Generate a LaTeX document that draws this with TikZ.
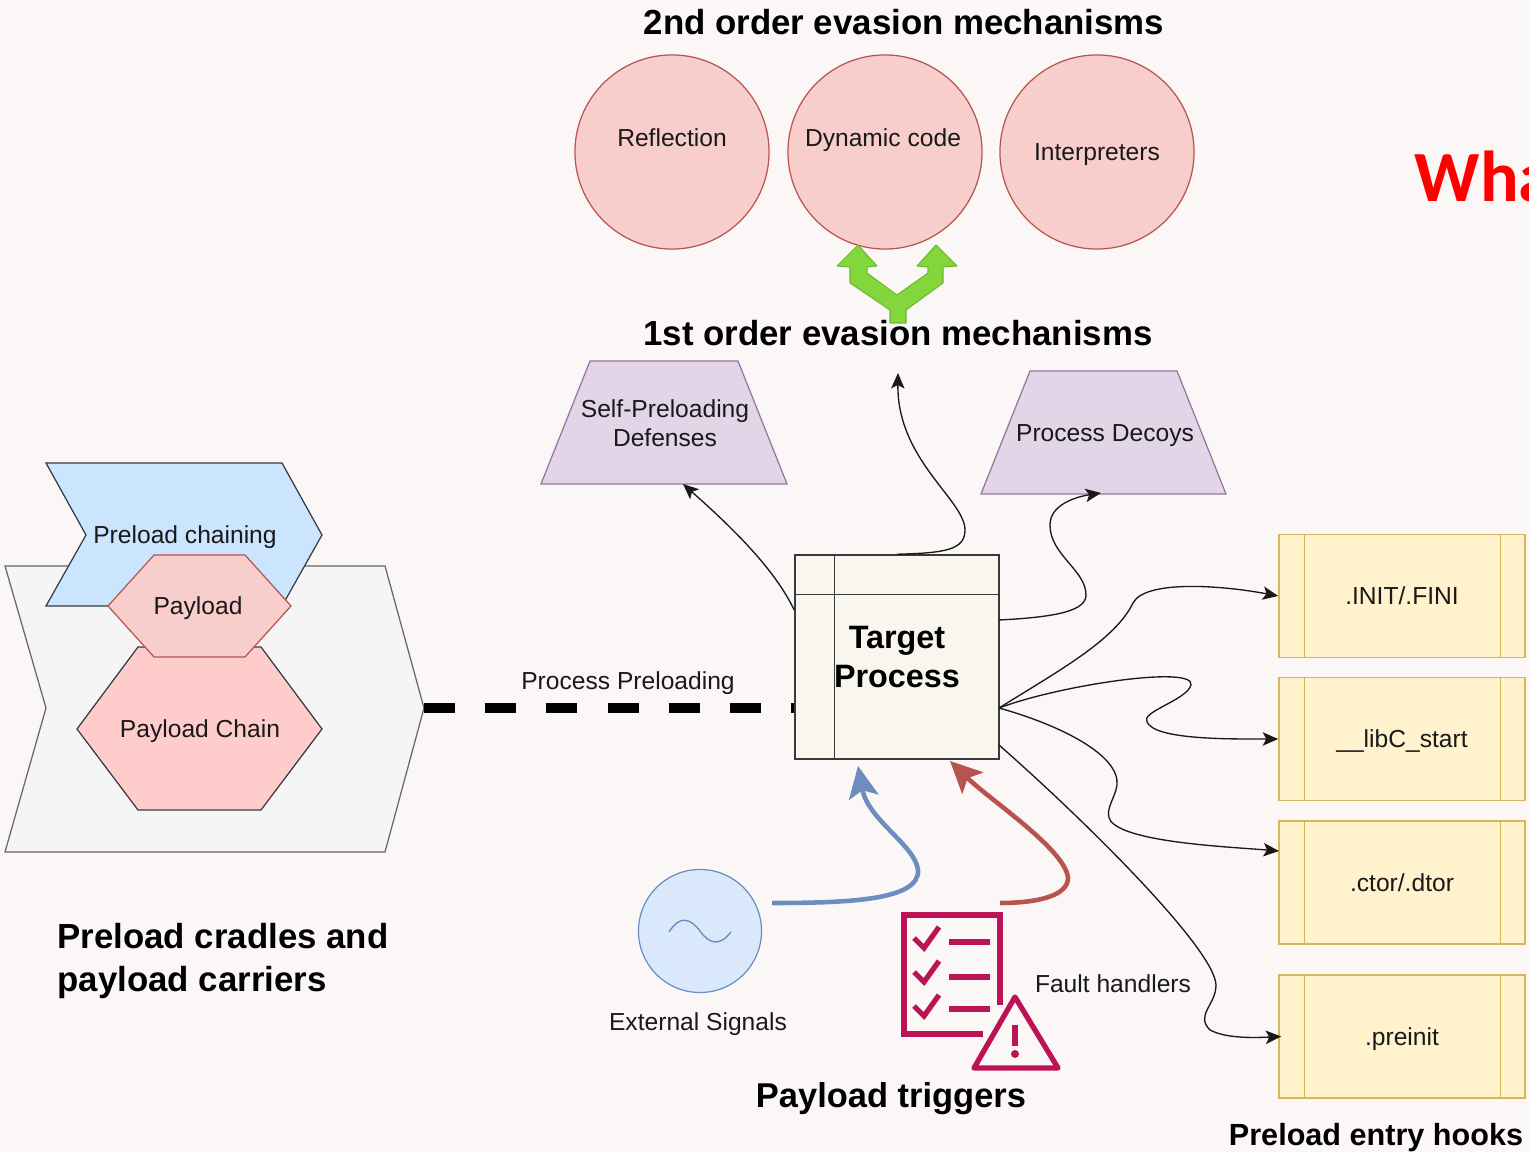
\documentclass[tikz,border=0pt]{standalone}
\usepackage{fontspec}
\setmainfont{Liberation Sans}
\newfontfamily\redfont{Carlito}
\usetikzlibrary{arrows.meta}

\definecolor{pagebg}{HTML}{FCF7F7}
\definecolor{pinkfill}{HTML}{F8CECC}
\definecolor{pinkline}{HTML}{B85450}
\definecolor{lilacfill}{HTML}{E1D5E7}
\definecolor{lilacline}{HTML}{9673A6}
\definecolor{yellowfill}{HTML}{FFF2CC}
\definecolor{yellowline}{HTML}{D6B656}
\definecolor{darkline}{HTML}{36393D}
\definecolor{skyfill}{HTML}{DAE8FC}
\definecolor{skyline}{HTML}{6C8EBF}
\definecolor{chainfill}{HTML}{FFCCCC}
\definecolor{chainblue}{HTML}{CCE5FF}
\definecolor{targetfill}{HTML}{F9F7ED}
\definecolor{iconred}{HTML}{BC1356}
\definecolor{greenfill}{HTML}{83D63C}
\definecolor{greenline}{HTML}{6DBB2C}

\tikzset{
  lbl/.style={font=\fontsize{7}{8.2}\selectfont, text=black!90, align=center, inner sep=0pt},
  heading/.style={font=\fontsize{9.9}{12}\selectfont\bfseries, text=black, align=center, inner sep=0pt},
  evasion/.style={circle, draw=pinkline, fill=pinkfill, line width=.35pt, minimum size=1.94cm, inner sep=0pt},
  decoy/.style={draw=lilacline, fill=lilacfill, line width=.35pt},
  entry/.style={rectangle, draw=yellowline, fill=yellowfill, line width=.4pt, minimum width=2.46cm, minimum height=1.23cm, inner sep=0pt, text depth=0pt},
  entryline/.style={draw=yellowline, line width=.4pt},
  wire/.style={->, draw=black!90, line width=.38pt},
  fatwire/.style={-{Stealth[length=9pt,width=8.5pt,inset=2pt]}, line width=1.3pt},
  icon/.style={draw=iconred, line width=1.5pt}
}

\begin{document}
\begin{tikzpicture}[x=.01cm, y=-.01cm, >={Stealth[length=4.4pt,width=3.8pt,inset=1pt]}]

        \useasboundingbox (0,0) rectangle (1529,1152);
        \clip (0,0) rectangle (1529,1152);
        \fill[pagebg] (0,0) rectangle (1529,1152);

        % second order circles
        \node[evasion] (reflection) at (672,152) {};
        \node[evasion] (dynamic) at (885,152) {};
        \node[evasion] (interp) at (1097,152) {};
        \node[lbl] (reflectionText) at (672,138) {Reflection};
        \node[lbl] (dynamicText) at (883,140.5) {Dynamic code};
        \node[lbl] (interpText) at (1097,155) {Interpreters};
        \node[heading] (second) at (904,22) {2nd order evasion mechanisms};

        % green split arrow
        \fill[greenfill, draw=greenline, line width=.3pt, line join=round] (890,323) -- (906,323) -- (906,310) -- (943,283) -- (943,267)
            -- (957,266) -- (936,245) -- (917,266) -- (928,267) -- (928,273) -- (897,295) -- (867,273) -- (867,267)
            -- (877,266) -- (858,245) -- (837,266) -- (850,267) -- (850,283) -- (890,310) -- cycle;
        \node[heading] (first) at (898,333) {1st order evasion mechanisms};

        % trapezoids
        \draw[decoy] (541,484) -- (590,361) -- (738,361) -- (787,484) -- cycle;
        \draw[decoy] (981,494) -- (1030,371) -- (1177,371) -- (1226,494) -- cycle;
        \node[lbl] (selfdef) at (665,423) {Self-Preloading\\Defenses};
        \node[lbl] (decoys) at (1105,436) {Process Decoys};
        \coordinate (selfdefIn) at (683,484);
        \coordinate (decoysIn) at (1101,493);
        \coordinate (firstIn) at (898,373);

        % cradle and payloads
        \draw[draw=black!60, fill=black!4, line width=.35pt] (5,566) -- (385,566) -- (424,708) -- (385,852) -- (5,852) -- (46,708) -- cycle;
        \draw[draw=darkline, fill=chainfill, line width=.35pt] (77,729) -- (138,647) -- (261,647) -- (322,729) -- (261,810) -- (138,810) -- cycle;
        \draw[draw=darkline, fill=chainblue, line width=.35pt] (46,463) -- (282,463) -- (322,535) -- (282,606) -- (46,606) -- (86,535) -- cycle;
        \draw[draw=pinkline, fill=pinkfill, line width=.35pt] (108,606) -- (154,555) -- (245,555) -- (291,606) -- (245,657) -- (154,657) -- cycle;
        \node[lbl] (chaining) at (185,537) {Preload chaining};
        \node[lbl] (payload) at (198,608) {Payload};
        \node[lbl] (chain) at (200,731) {Payload Chain};
        \node[heading, align=left] (cradles) at (223,961) {Preload cradles and\\payload carriers};
        \coordinate (cradleTip) at (424,708);

        % target process
        \node[rectangle, draw=darkline, fill=targetfill, line width=.4pt, minimum size=2.04cm, inner sep=0pt, align=center,
              font=\fontsize{9.2}{11}\selectfont\bfseries] (target) at (897,657) {Target\\Process};
        \draw[draw=darkline, line width=.35pt] ([yshift=-.4cm]target.north west) -- ([yshift=-.4cm]target.north east);
        \draw[draw=darkline, line width=.35pt] ([xshift=.4cm]target.north west) -- ([xshift=.4cm]target.south west);
        \coordinate (fan) at (999,708);

        % entry hooks
        \node[entry, lbl] (init) at (1402,596) {.INIT/.FINI};
        \node[entry, lbl] (libc) at (1402,739) {\_\_libC\_start};
        \node[entry, lbl] (ctor) at (1402,882.5) {.ctor/.dtor};
        \node[entry, lbl] (preinit) at (1402,1036.5) {.preinit};
        \draw[entryline] ([xshift=.26cm]init.north west) -- ([xshift=.26cm]init.south west);
        \draw[entryline] ([xshift=-.25cm]init.north east) -- ([xshift=-.25cm]init.south east);
        \draw[entryline] ([xshift=.26cm]libc.north west) -- ([xshift=.26cm]libc.south west);
        \draw[entryline] ([xshift=-.25cm]libc.north east) -- ([xshift=-.25cm]libc.south east);
        \draw[entryline] ([xshift=.26cm]ctor.north west) -- ([xshift=.26cm]ctor.south west);
        \draw[entryline] ([xshift=-.25cm]ctor.north east) -- ([xshift=-.25cm]ctor.south east);
        \draw[entryline] ([xshift=.26cm]preinit.north west) -- ([xshift=.26cm]preinit.south west);
        \draw[entryline] ([xshift=-.25cm]preinit.north east) -- ([xshift=-.25cm]preinit.south east);
        \coordinate (ctorIn) at (1279,851);
        \node[heading, font=\fontsize{8.7}{12}\selectfont\bfseries] (hooks) at (1376,1138) {Preload entry hooks};

        % triggers
        \node[circle, draw=skyline, fill=skyfill, line width=.35pt, minimum size=1.23cm, inner sep=0pt] (signal) at (700,931) {};
        \draw[draw=skyline, line width=.4pt] (669,932) .. controls (680,915) and (690,918) .. (700,931) .. controls (710,945) and (720,946) .. (731,932);
        \node[lbl] (signalText) at (698,1024) {External Signals};
        \node[lbl] (fault) at (1113,984) {Fault handlers};
        \node[heading, font=\fontsize{9.8}{12}\selectfont\bfseries] (triggers) at (891,1099) {Payload triggers};
        \coordinate (blueStart) at (772,903);
        \coordinate (blueIn) at (858,766);
        \coordinate (redStart) at (1000,903);
        \coordinate (redIn) at (950,761);

        % checklist icon
        \draw[icon, line join=miter] (1000,1005) -- (1000,915) -- (904,915) -- (904,1034) -- (983,1034);
        \draw[icon] (914,938) -- (924,948) -- (939,927);
        \draw[icon] (914,972) -- (924,982) -- (939,961);
        \draw[icon] (914,1006) -- (924,1016) -- (939,995);
        \draw[icon] (949,942) -- (990,942);
        \draw[icon] (949,977) -- (990,977);
        \draw[icon] (949,1009) -- (990,1009);
        \draw[icon, line join=round] (1015,997) -- (974,1068) -- (1058,1068) -- cycle;
        \draw[icon] (1015,1025) -- (1015,1046);
        \fill[iconred] (1015,1054) circle (4);

        % page title cut by the edge
        \node[anchor=west, inner sep=0pt, text=red, font=\redfont\fontsize{20.5}{24}\selectfont\bfseries] (what) at (1414,176) {Wha};

        % edges
        \draw[draw=black, line width=2.6pt, dash pattern=on 8.8pt off 8.6pt] (cradleTip) -- (target.west |- cradleTip);
        \node[lbl] (preloading) at (628,683) {Process Preloading};

        \draw[wire] (target.north west |- 0,610) .. controls (775,570) and (735,530) .. (selfdefIn);
        \draw[wire] (target.north) .. controls (945,553) and (965,550) .. (965,530) .. controls (965,500) and (897,460) .. (firstIn);
        \draw[wire] (999,620) .. controls (1060,617) and (1086,610) .. (1086,595) .. controls (1086,570) and (1050,555) .. (1050,525) .. controls (1050,505) and (1075,497) .. (decoysIn);

        \draw[wire] (fan) .. controls (1060,670) and (1115,640) .. (1133,603) .. controls (1145,580) and (1220,585) .. (init.west);
        \draw[wire] (fan) .. controls (1060,685) and (1195,665) .. (1191,685) .. controls (1187,700) and (1140,712) .. (1147,722) .. controls (1155,740) and (1230,739) .. (libc.west);
        \draw[wire] (fan) .. controls (1060,725) and (1120,755) .. (1117,785) .. controls (1115,800) and (1100,815) .. (1115,825) .. controls (1140,843) and (1230,847) .. (ctorIn);
        \draw[wire] (999,745) .. controls (1090,825) and (1215,950) .. (1216,985) .. controls (1216,1005) and (1195,1015) .. (1210,1030) .. controls (1225,1038) and (1250,1038) .. ([xshift=.03cm]preinit.west);

        \draw[fatwire, draw=skyline] (blueStart) .. controls (850,903) and (920,900) .. (918,870) .. controls (915,845) and (868,820) .. (blueIn);
        \draw[fatwire, draw=pinkline] (redStart) .. controls (1040,903) and (1068,895) .. (1068,878) .. controls (1066,850) and (990,800) .. (redIn);

\end{tikzpicture}
\end{document}
